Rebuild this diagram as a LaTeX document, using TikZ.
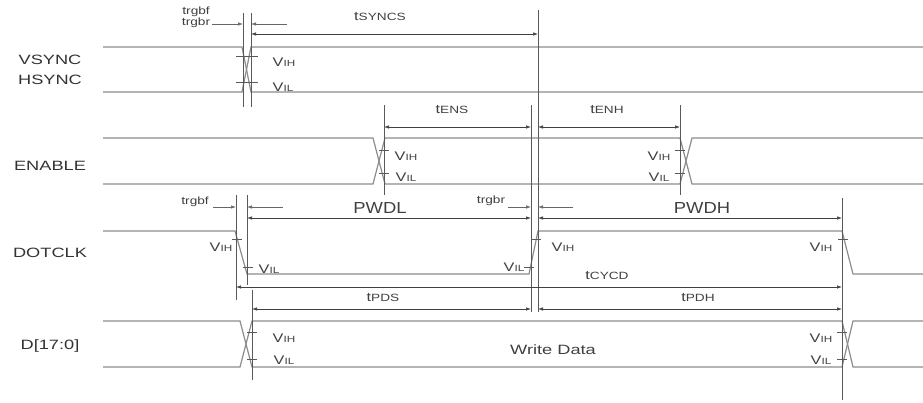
\documentclass[tikz,border=0pt]{standalone}
\usepackage{fontspec}
\setmainfont{Liberation Sans}
\usetikzlibrary{arrows.meta}

\tikzset{
  wave/.style={line width=1.2, color=black!45},
  guide/.style={line width=0.8, color=black!65},
  tick/.style={line width=0.6, color=black!65},
  dim/.style={<->, line width=0.7, color=black!75},
  lead/.style={->, line width=0.7, color=black!60},
  signame/.style={color=black!80, font=\fontsize{13.5}{14}\selectfont, xscale=1.35},
  bigname/.style={color=black!75, font=\fontsize{16}{16}\selectfont, xscale=1.15},
  tlabel/.style={color=black!75, font=\fontsize{12.5}{13}\selectfont, xscale=1.3},
  smlabel/.style={color=black!75, font=\fontsize{11}{12}\selectfont, xscale=1.3},
  vlabel/.style={color=black!75, font=\fontsize{12.5}{13}\selectfont, xscale=1.3, inner sep=1pt},
}
\newcommand{\vih}{V{\fontsize{9}{9}\selectfont IH}}
\newcommand{\vil}{V{\fontsize{9}{9}\selectfont IL}}
\newcommand{\tm}[1]{t{\fontsize{10.5}{11}\selectfont #1}}

\begin{document}
\begin{tikzpicture}[x=1pt, y=-1pt, >={Latex[length=5pt,width=3.5pt]}]
\useasboundingbox (0,0) rectangle (923,402);

% signal names
\node[signame] (vsync) at (50,60) {VSYNC};
\node[signame] (hsync) at (50,80) {HSYNC};
\node[signame] (enable) at (50,166) {ENABLE};
\node[signame] (dotclk) at (50,253) {DOTCLK};
\node[signame] (data) at (50,346) {D[17:0]};

% waveforms
\draw[wave] (103,47) -- (242,47) -- (251,92) -- (923,92);
\draw[wave] (103,92) -- (242,92) -- (251,47) -- (923,47);
\draw[wave] (103,138) -- (373,138) -- (385,184) -- (680,184) -- (692,138) -- (923,138);
\draw[wave] (103,184) -- (373,184) -- (385,138) -- (680,138) -- (692,184) -- (923,184);
\draw[wave] (103,231) -- (235,231) -- (247,274) -- (529,274) -- (538,231) -- (842,231) -- (853,274) -- (923,274);
\draw[wave] (103,321) -- (240,321) -- (252,367) -- (842,367) -- (853,321) -- (923,321);
\draw[wave] (103,367) -- (240,367) -- (252,321) -- (842,321) -- (853,367) -- (923,367);

% reference lines
\foreach \x/\a/\b in {243/13/107, 251/13/107, 538/10/312, 384/105/195, 531/105/312,
    680/105/195, 236/195/300, 247/195/285, 842/198/400, 252/290/380}
  \draw[guide] (\x,\a) -- (\x,\b);

% threshold ticks
\draw[tick] (236,56) -- (258,56);
\draw[tick] (236,82) -- (258,82);
\foreach \x/\y in {384/150, 384/173, 680/150, 680/173, 237/239, 248/267, 529/267,
    536/239, 843/239, 252/332, 252/359, 842/332, 842/359}
  \draw[tick] (\x-5,\y) -- (\x+5,\y);

% thresholds
\node[vlabel] (vsih) at (284,62) {\vih};
\node[vlabel] (vsil) at (283,87) {\vil};
\node[vlabel] (enih1) at (406,156) {\vih};
\node[vlabel] (enil1) at (406,177) {\vil};
\node[vlabel] (enih2) at (659,156) {\vih};
\node[vlabel] (enil2) at (659,177) {\vil};
\node[vlabel] (ckih1) at (221,247) {\vih};
\node[vlabel] (ckil1) at (269,269) {\vil};
\node[vlabel] (ckil2) at (514,267) {\vil};
\node[vlabel] (ckih2) at (563,247) {\vih};
\node[vlabel] (ckih3) at (821,247) {\vih};
\node[vlabel] (dih1) at (284,338) {\vih};
\node[vlabel] (dil1) at (284,360) {\vil};
\node[vlabel] (dih2) at (821,338) {\vih};
\node[vlabel] (dil2) at (821,360) {\vil};

% timing labels
\node[smlabel] (rgbf1) at (196,12) {\tm{rgbf}};
\node[smlabel] (rgbr1) at (196,23) {\tm{rgbr}};
\node[tlabel] (syncs) at (380,17) {\tm{SYNCS}};
\node[tlabel] (ens) at (452,110) {\tm{ENS}};
\node[tlabel] (enh) at (607,110) {\tm{ENH}};
\node[smlabel] (rgbf2) at (195,202) {\tm{rgbf}};
\node[smlabel] (rgbr2) at (491,201) {\tm{rgbr}};
\node[bigname] (pwdl) at (380,208) {PWDL};
\node[bigname] (pwdh) at (702,208) {PWDH};
\node[tlabel] (cycd) at (607,276) {\tm{CYCD}};
\node[tlabel] (pds) at (383,298) {\tm{PDS}};
\node[tlabel] (pdh) at (698,298) {\tm{PDH}};
\node[signame, color=black!75] (wdata) at (553,350) {Write Data};

% dimension arrows
\draw[lead] (212,24) -- (243,24);
\draw[lead] (287,24) -- (251,24);
\draw[dim] (251,34) -- (538,34);
\draw[dim] (384,127) -- (531,127);
\draw[dim] (538,127) -- (680,127);
\draw[lead] (213,207) -- (236,207);
\draw[lead] (283,207) -- (247,207);
\draw[lead] (508,207) -- (531,207);
\draw[lead] (573,207) -- (538,207);
\draw[dim] (247,218) -- (531,218);
\draw[dim] (538,218) -- (842,218);
\draw[dim] (236,287) -- (842,287);
\draw[dim] (252,309) -- (531,309);
\draw[dim] (538,309) -- (842,309);
\end{tikzpicture}
\end{document}
